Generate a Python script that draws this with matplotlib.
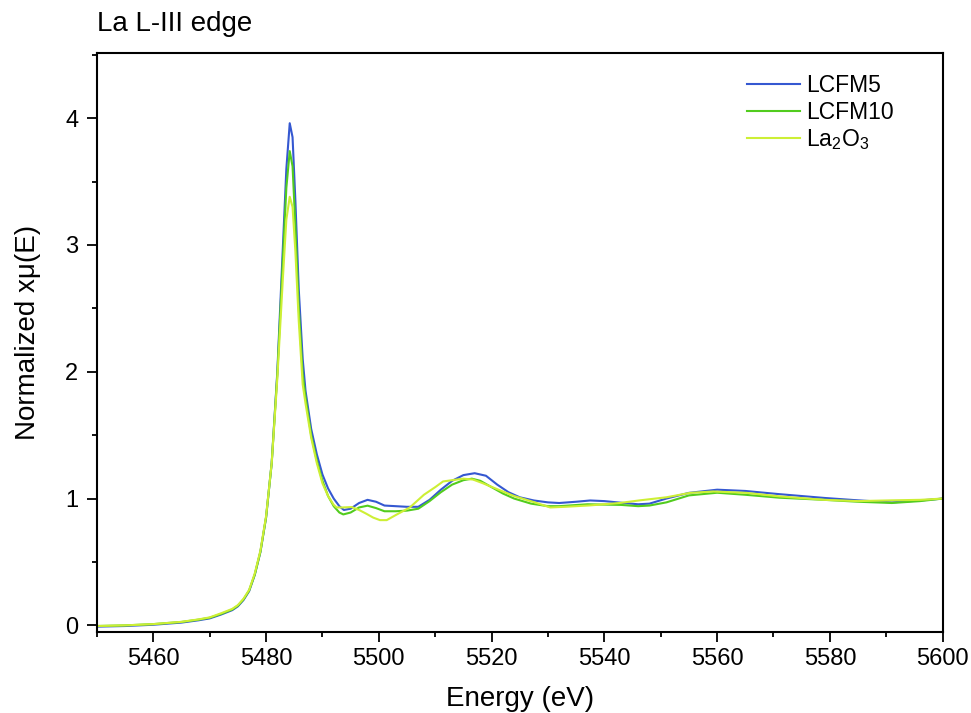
import matplotlib
matplotlib.use("Agg")
import matplotlib.pyplot as plt
from matplotlib.ticker import MultipleLocator

plt.rcParams['font.family'] = ['Liberation Sans', 'DejaVu Sans']
plt.rcParams['mathtext.default'] = 'regular'

# normalized La L3-edge XANES, read per sample
e_lcfm5 = [5450, 5455, 5460, 5465, 5468, 5470, 5472, 5474, 5475, 5476, 5477, 5478,
           5479, 5480, 5481, 5482, 5483, 5483.6, 5484.2, 5484.7, 5485.2, 5485.8, 5486.5,
           5487, 5488, 5489, 5490, 5491, 5492, 5493, 5493.8, 5495, 5496.5, 5498, 5499.5,
           5501, 5503, 5505, 5507, 5509, 5511, 5513, 5515, 5517, 5519, 5521, 5523, 5525,
           5527.5, 5530, 5532, 5535, 5537.5, 5540, 5543, 5546, 5548, 5551, 5555, 5560,
           5565, 5571, 5579, 5585, 5591, 5596, 5600]
mu_lcfm5 = [-0.01, -0.005, 0.005, 0.022, 0.04, 0.055, 0.085, 0.12, 0.15, 0.2, 0.27, 0.4,
            0.58, 0.85, 1.28, 2.0, 3.0, 3.6, 3.96, 3.85, 3.35, 2.65, 2.1,
            1.85, 1.55, 1.35, 1.19, 1.08, 1.0, 0.94, 0.91, 0.92, 0.965, 0.99, 0.975,
            0.945, 0.94, 0.935, 0.935, 0.99, 1.07, 1.14, 1.185, 1.2, 1.18, 1.11, 1.05, 1.01,
            0.985, 0.97, 0.965, 0.975, 0.985, 0.98, 0.967, 0.955, 0.96, 1.0, 1.045, 1.07,
            1.06, 1.035, 1.005, 0.986, 0.97, 0.985, 1.0]

e_lcfm10 = [5450, 5455, 5460, 5465, 5468, 5470, 5472, 5474, 5475, 5476, 5477, 5478,
            5479, 5480, 5481, 5482, 5483, 5483.6, 5484.2, 5484.7, 5485.2, 5485.8, 5486.5,
            5487, 5488, 5489, 5490, 5491, 5492, 5493, 5493.7, 5495, 5496.5, 5498, 5499.5,
            5501, 5503, 5505, 5507, 5509, 5511, 5513, 5515, 5516.5, 5518, 5520, 5522, 5524,
            5527, 5530, 5532, 5537, 5543, 5546, 5548, 5551, 5555, 5560, 5565, 5571, 5579,
            5585, 5591, 5596, 5600]
mu_lcfm10 = [-0.005, 0.0, 0.01, 0.027, 0.045, 0.06, 0.09, 0.125, 0.155, 0.205, 0.275, 0.4,
             0.58, 0.85, 1.28, 1.98, 2.9, 3.45, 3.74, 3.62, 3.15, 2.5, 1.98,
             1.8, 1.5, 1.3, 1.14, 1.02, 0.94, 0.89, 0.875, 0.89, 0.93, 0.944, 0.925,
             0.9, 0.9, 0.905, 0.92, 0.98, 1.05, 1.11, 1.145, 1.157, 1.14, 1.09, 1.04, 1.0,
             0.96, 0.94, 0.94, 0.955, 0.95, 0.94, 0.945, 0.97, 1.025, 1.046, 1.03, 1.007, 0.99,
             0.975, 0.965, 0.98, 1.0]

e_la2o3 = [5450, 5455, 5460, 5465, 5468, 5470, 5472, 5474, 5475, 5476, 5477, 5478,
           5479, 5480, 5481, 5482, 5483, 5483.6, 5484.2, 5484.7, 5485.2, 5485.8, 5486.5,
           5487, 5488, 5489, 5490, 5491, 5492, 5492.5, 5493.5, 5495.2, 5496.5, 5497.8, 5499,
           5500.2, 5501.4, 5503, 5505.5, 5508, 5510, 5511.4, 5513, 5515, 5516.7, 5518.5,
           5521.5, 5524, 5527.3, 5530.4, 5533, 5537.4, 5542.7, 5546.3, 5551, 5555.2, 5559.3,
           5565.2, 5571.1, 5579, 5585, 5591, 5596, 5600]
mu_la2o3 = [-0.005, 0.0, 0.01, 0.028, 0.047, 0.063, 0.095, 0.13, 0.16, 0.21, 0.28, 0.41,
            0.59, 0.86, 1.28, 1.95, 2.75, 3.2, 3.38, 3.3, 2.95, 2.4, 1.9,
            1.75, 1.48, 1.28, 1.12, 1.02, 0.95, 0.93, 0.93, 0.933, 0.91, 0.88, 0.85,
            0.83, 0.83, 0.87, 0.93, 1.03, 1.09, 1.135, 1.145, 1.157, 1.15, 1.12,
            1.065, 1.02, 0.975, 0.93, 0.935, 0.946, 0.965, 0.986, 1.01, 1.045, 1.056,
            1.045, 1.017, 0.99, 0.98, 0.986, 0.99, 1.0]

fig = plt.figure(figsize=(9.71, 7.13), dpi=100)
ax = fig.add_axes([0.0998, 0.114, 0.8710, 0.811])

ax.plot(e_lcfm5, mu_lcfm5, color='#3558d1', lw=1.5, label='LCFM5')
ax.plot(e_lcfm10, mu_lcfm10, color='#52cc1e', lw=1.5, label='LCFM10')
ax.plot(e_la2o3, mu_la2o3, color='#cdef35', lw=1.5, label='La$_2$O$_3$')

ax.set_xlim(5450, 5600)
ax.set_ylim(-0.05, 4.51)
ax.xaxis.set_major_locator(MultipleLocator(20))
ax.xaxis.set_minor_locator(MultipleLocator(10))
ax.yaxis.set_major_locator(MultipleLocator(1))
ax.yaxis.set_minor_locator(MultipleLocator(0.5))
ax.tick_params(which='major', direction='out', length=7, width=1.3, labelsize=17)
ax.tick_params(axis='x', which='major', pad=5)
ax.tick_params(axis='y', which='major', pad=6.5)
ax.tick_params(which='minor', direction='out', length=3.6, width=1.3)
for s in ax.spines.values():
    s.set_linewidth(1.5)

ax.set_xlabel('Energy (eV)', fontsize=20, labelpad=11)
ax.set_ylabel('Normalized x\u03bc(E)', fontsize=20, labelpad=17, y=0.517)
ax.set_title('La L-III edge', loc='left', fontsize=20, pad=16)

ax.legend(loc='upper right', bbox_to_anchor=(0.953, 0.98), frameon=False, fontsize=16.5,
          handlelength=2.3, handletextpad=0.26, labelspacing=0.15, borderaxespad=0)

fig.savefig('out.png', dpi=100)
